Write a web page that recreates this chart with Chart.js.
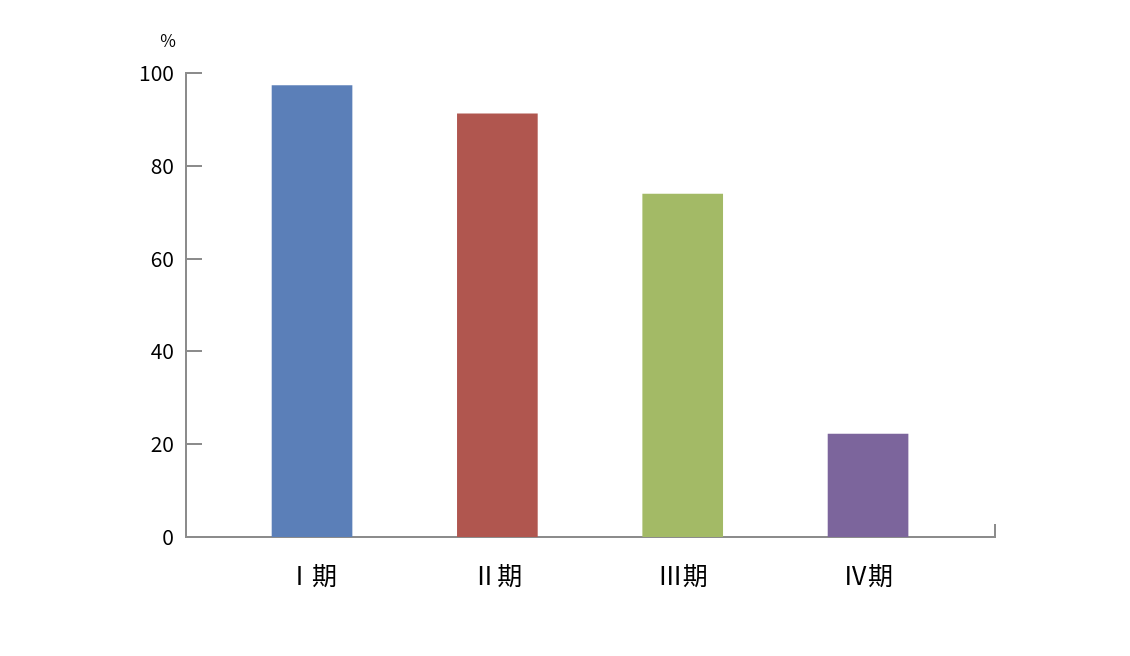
<!DOCTYPE html>
<html>
<head>
<meta charset="utf-8">
<script src="https://cdn.jsdelivr.net/npm/chart.js@4"></script>
<style>
  html, body { margin: 0; padding: 0; background: #fff; }
  #wrap { width: 1130px; height: 656px; }
</style>
</head>
<body>
<div id="wrap"><canvas id="mainChart"></canvas></div>
<script>
// datos
const categorias = ['Ⅰ期', 'Ⅱ期', 'Ⅲ期', 'Ⅳ期'];
const valores = [97.3, 91.2, 73.9, 22.2];
const colores = ['#5b7fb8', '#b0564f', '#a3ba66', '#7c659c'];
const yTicks = [0, 20, 40, 60, 80, 100];
const unidad = '%';

const AXIS_COLOR = '#8c8c8c';
const FONT_LAT = "'Noto Sans CJK JP', 'Noto Sans', sans-serif";

// marcas interiores del eje y, tope del eje x y etiqueta "%"
const extras = {
    id: 'extras',
    afterDraw(chart) {
        const { ctx, chartArea, scales } = chart;
        ctx.save();
        ctx.strokeStyle = AXIS_COLOR;
        ctx.lineWidth = 2;
        yTicks.forEach(v => {
            if (v === 0) return;
            const y = Math.round(scales.y.getPixelForValue(v));
            ctx.beginPath();
            ctx.moveTo(chartArea.left, y);
            ctx.lineTo(chartArea.left + 16, y);
            ctx.stroke();
        });
        const yb = scales.y.getPixelForValue(0);
        ctx.beginPath();
        ctx.moveTo(chartArea.right, yb + 1);
        ctx.lineTo(chartArea.right, yb - 13);
        ctx.stroke();

        ctx.fillStyle = '#000';
        ctx.font = '17px ' + FONT_LAT;
        ctx.textAlign = 'center';
        ctx.textBaseline = 'middle';
        ctx.fillText(unidad, 168, 41);
        ctx.restore();
    }
};

const ctx = document.getElementById('mainChart').getContext('2d');
const myChart = new Chart(ctx, {
    type: 'bar',
    data: {
        datasets: [{
            data: valores.map((v, i) => ({ x: i + 1, y: v })),
            backgroundColor: colores,
            barThickness: 80,
            borderWidth: 0
        }]
    },
    options: {
        responsive: true,
        maintainAspectRatio: false,
        animation: false,
        layout: { padding: { top: 73, right: 135, left: 0, bottom: 0 } },
        plugins: { legend: { display: false }, tooltip: { enabled: false } },
        scales: {
            x: {
                type: 'linear',
                offset: false,
                min: 0.32,
                max: 4.685,
                afterBuildTicks: s => { s.ticks = categorias.map((c, i) => ({ value: i + 1 })); },
                afterFit: s => { s.height = 119; },
                grid: { display: false, drawTicks: false, offset: false },
                border: { display: true, color: AXIS_COLOR, width: 2 },
                ticks: {
                    callback: (v) => categorias[v - 1],
                    color: '#000',
                    padding: 23,
                    maxRotation: 0,
                    autoSkip: false,
                    font: { size: 25, family: FONT_LAT }
                }
            },
            y: {
                min: 0,
                max: 100,
                afterBuildTicks: s => { s.ticks = yTicks.map(v => ({ value: v })); },
                afterFit: s => { s.width = 186; },
                grid: { display: false, drawTicks: false },
                border: { display: true, color: AXIS_COLOR, width: 2 },
                ticks: {
                    color: '#000',
                    padding: 12,
                    font: { size: 21, family: FONT_LAT }
                }
            }
        }
    },
    plugins: [extras]
});
</script>
</body>
</html>
